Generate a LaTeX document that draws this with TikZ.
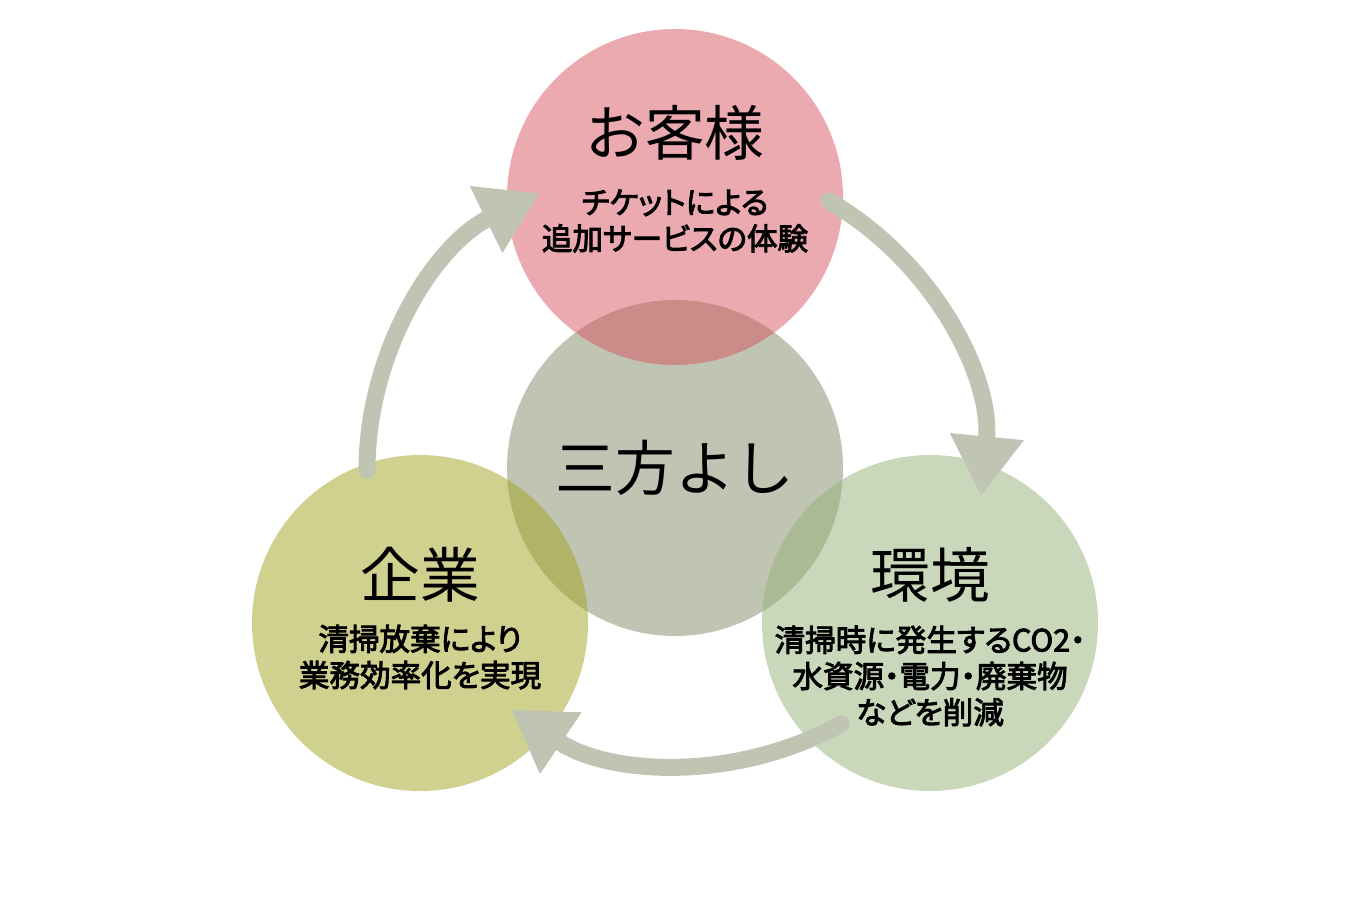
\documentclass[tikz,border=0pt]{standalone}
\usepackage{fontspec}
\setmainfont{Noto Sans CJK JP}
\newfontfamily\notefont[RawFeature=+palt, FakeBold=3]{Noto Sans CJK JP}
\usetikzlibrary{arrows.meta}

\definecolor{sanpogray}{RGB}{192,197,179}
\definecolor{kyakupink}{RGB}{215,83,97}
\definecolor{kigyoolive}{RGB}{163,163,31}
\definecolor{kankyogreen}{RGB}{147,177,119}

\begin{document}
\begin{tikzpicture}[
    bubble/.style={circle, minimum size=3.36cm, inner sep=0pt},
    title/.style={font=\fontsize{17pt}{20pt}\selectfont},
    note/.style={font=\notefont\fontsize{8.7pt}{10.3pt}\selectfont, align=center},
    cyclearrow/.style={line width=0.17cm, sanpogray, line cap=round,
      -{Triangle[length=0.6cm,width=0.7cm]}}
  ]
    \useasboundingbox (0,0) rectangle (13.66,9);

    % circles
    \node[bubble, fill=sanpogray] (sanpo) at (6.75,4.32) {};
    \node[bubble, fill=kyakupink, fill opacity=0.5] (kyaku) at (6.75,7.03) {};
    \node[bubble, fill=kigyoolive, fill opacity=0.5] (kigyo) at (4.20,2.77) {};
    \node[bubble, fill=kankyogreen, fill opacity=0.5] (kankyo) at (9.30,2.77) {};

    % cycle arrows
    \coordinate (kigyo-out) at (3.67,4.30);
    \coordinate (kyaku-out) at (8.29,6.99);
    \coordinate (kankyo-out) at (8.41,1.76);
    \draw[cyclearrow] (kigyo-out) arc[start angle=180, end angle=116, radius=3.08];
    \draw[cyclearrow] (kyaku-out) arc[start angle=60, end angle=-5.5, radius=3.07];
    \draw[cyclearrow] (kankyo-out) arc[start angle=-61, end angle=-124, radius=3.16];

    % texts
    \node[title] (kyaku-title) at (6.75,7.67) {お客様};
    \node[note] (kyaku-note) at (6.75,6.79) {チケットによる\\追加サービスの体験};
    \node[title] (sanpo-title) at (6.75,4.32) {三方よし};
    \node[title] (kigyo-title) at (4.20,3.25) {企業};
    \node[note] (kigyo-note) at (4.20,2.43) {清掃放棄により\\業務効率化を実現};
    \node[title] (kankyo-title) at (9.30,3.25) {環境};
    \node[note] (kankyo-note) at (9.30,2.24) {清掃時に発生するCO2・\\水資源・電力・廃棄物\\などを削減};
\end{tikzpicture}
\end{document}
